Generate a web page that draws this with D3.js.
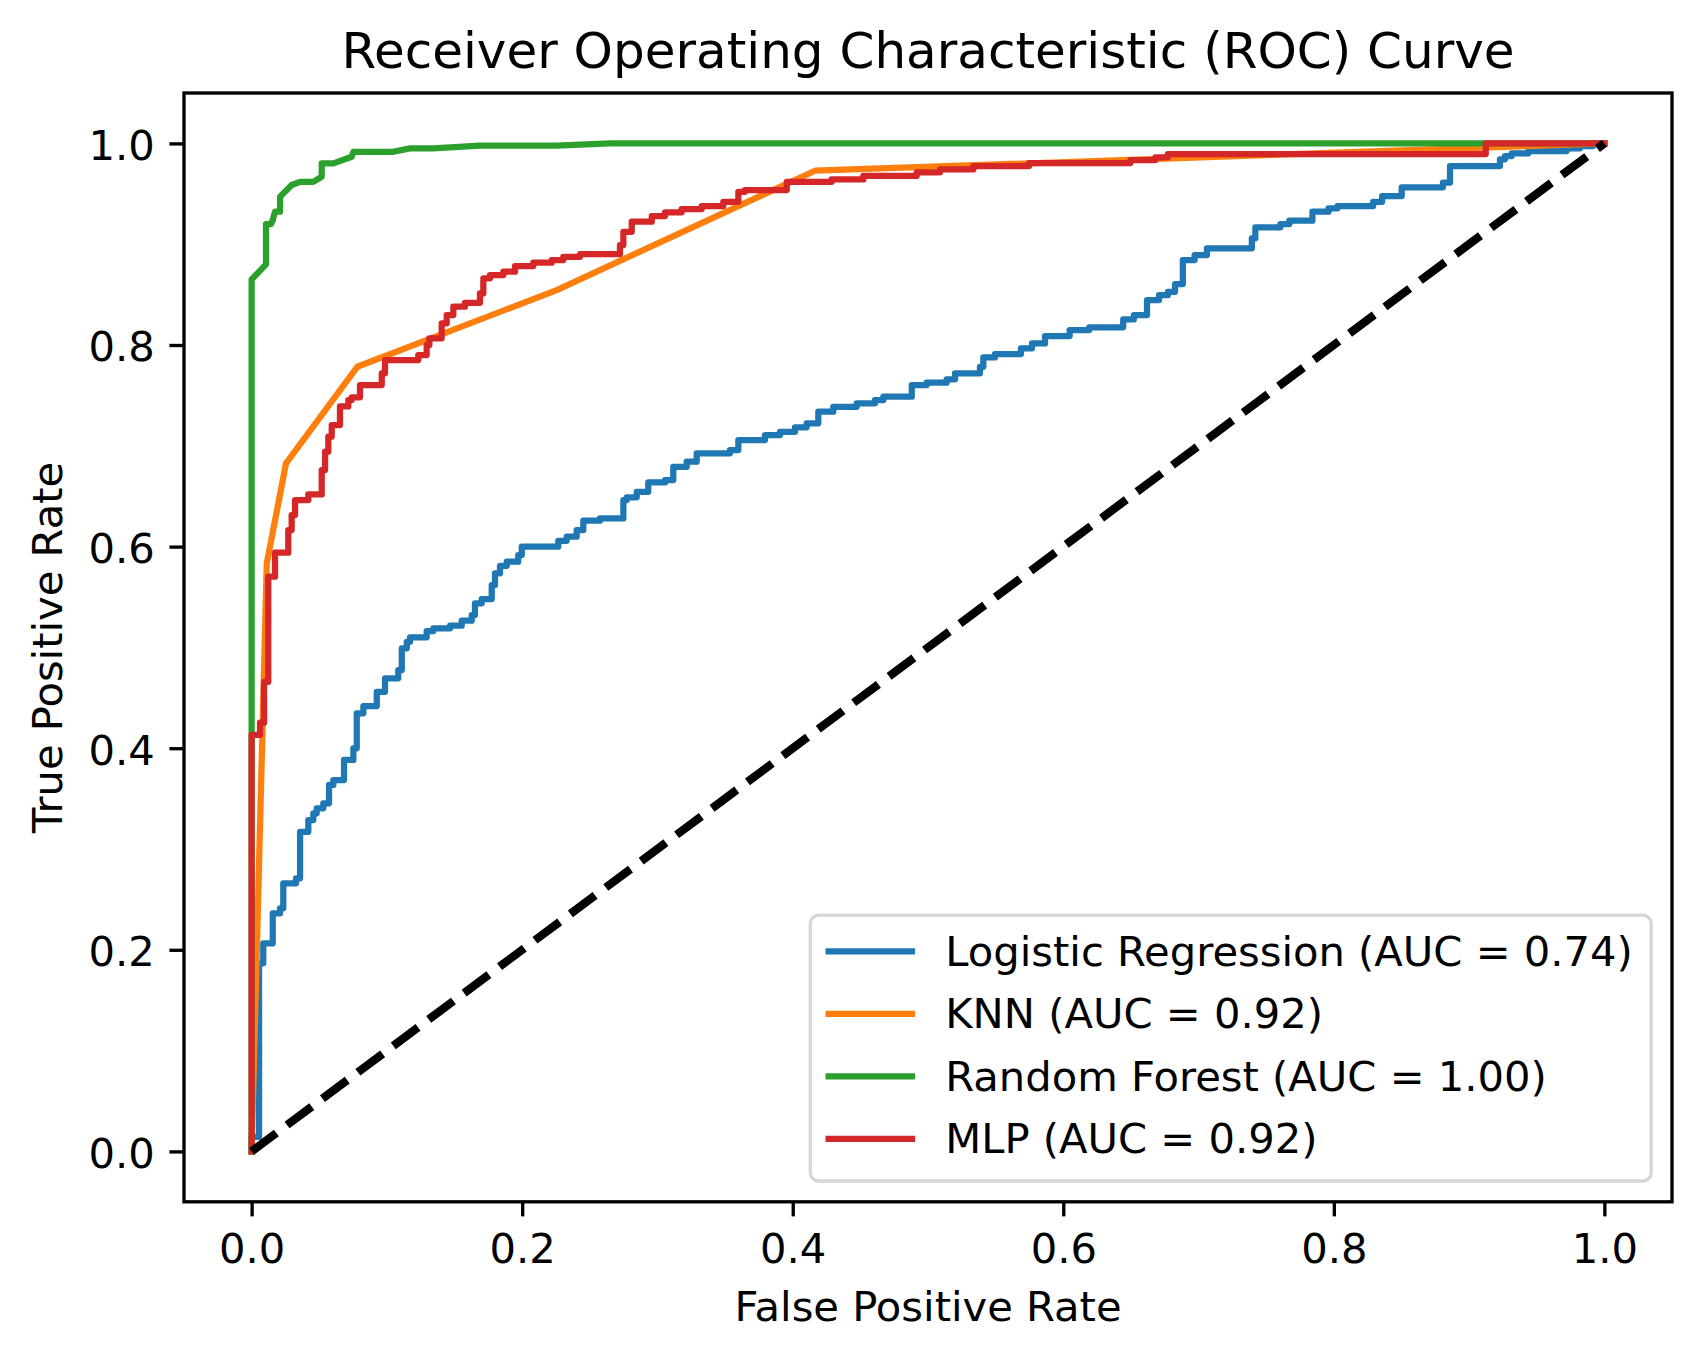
<!DOCTYPE html>
<html>
<head>
<meta charset="utf-8">
<script src="https://cdn.jsdelivr.net/npm/d3@7"></script>
<style>
  body { margin: 0; background: #fff; }
  svg { display: block; font-family: "DejaVu Sans", sans-serif; }
</style>
</head>
<body>
<svg id="chart" width="1702" height="1361"></svg>
<script>
// values
const tickValues = [0, 0.2, 0.4, 0.6, 0.8, 1.0];

const modelNames = ["Logistic Regression", "KNN", "Random Forest", "MLP"];
const aucValues = [0.74, 0.92, 1.00, 0.92];

// logistic regression: step points (x = where the curve rises, y = level reached)
const lrFpr = [0, 0, 0.0055, 0.0086, 0.0156, 0.0210, 0.0234, 0.0328, 0.0358, 0.0419, 0.0456, 0.0481, 0.0530, 0.0572, 0.0604, 0.0683,
  0.0752, 0.0777, 0.0826, 0.0925, 0.0986, 0.1084, 0.1110, 0.1147, 0.1171, 0.1294, 0.1343, 0.1467, 0.1553, 0.1627, 0.1651, 0.1701,
  0.1775, 0.1799, 0.1836, 0.1886, 0.1971, 0.1997, 0.2267, 0.2329, 0.2403, 0.2452, 0.2575, 0.2748, 0.2773, 0.2847, 0.2932, 0.3056,
  0.3117, 0.3216, 0.3290, 0.3536, 0.3598, 0.3795, 0.3906, 0.4017, 0.4103, 0.4189, 0.4300, 0.4473, 0.4608, 0.4670, 0.4880, 0.4990,
  0.5138, 0.5200, 0.5384, 0.5409, 0.5495, 0.5687, 0.5769, 0.5865, 0.6047, 0.6192, 0.6443, 0.6522, 0.6619, 0.6708, 0.6774, 0.6826,
  0.6884, 0.6971, 0.7062, 0.7394, 0.7420, 0.7605, 0.7671, 0.7842, 0.7961, 0.8027, 0.8291, 0.8357, 0.8502, 0.8807, 0.8859, 0.9228,
  0.9265, 0.9315, 0.9437, 0.9721, 0.9820, 0.9916, 1.0];
const lrTpr = [0, 0.0143, 0.1866, 0.2064, 0.2362, 0.2412, 0.2660, 0.2709, 0.3171, 0.3287, 0.3354, 0.3404, 0.3453, 0.3635, 0.3684, 0.3883,
  0.3999, 0.4346, 0.4418, 0.4560, 0.4693, 0.4775, 0.4991, 0.5056, 0.5100, 0.5162, 0.5189, 0.5215, 0.5265, 0.5321, 0.5437, 0.5480,
  0.5619, 0.5735, 0.5810, 0.5850, 0.5916, 0.5999, 0.6058, 0.6098, 0.6164, 0.6257, 0.6280, 0.6462, 0.6489, 0.6544, 0.6637, 0.6660,
  0.6792, 0.6842, 0.6925, 0.6958, 0.7057, 0.7107, 0.7139, 0.7183, 0.7223, 0.7338, 0.7387, 0.7421, 0.7454, 0.7487, 0.7603, 0.7626,
  0.7659, 0.7719, 0.7784, 0.7877, 0.7910, 0.7967, 0.8016, 0.8089, 0.8148, 0.8175, 0.8254, 0.8297, 0.8446, 0.8495, 0.8528, 0.8605,
  0.8843, 0.8892, 0.8959, 0.9058, 0.9167, 0.9200, 0.9233, 0.9322, 0.9356, 0.9378, 0.9421, 0.9478, 0.9564, 0.9612, 0.9775, 0.9842,
  0.9875, 0.9901, 0.9924, 0.9951, 0.9974, 1.0, 1.0];

// knn: few thresholds, straight segments
const knnFpr = [0, 0.0112, 0.0254, 0.0781, 0.2255, 0.4165, 1.0];
const knnTpr = [0, 0.5834, 0.6826, 0.7784, 0.8545, 0.9729, 1.0];

// random forest: corner points
const rfFpr = [0, 0, 0.0106, 0.0106, 0.0143, 0.0156, 0.0173, 0.0210, 0.0210, 0.0296, 0.0358, 0.0456, 0.0518, 0.0518, 0.0604, 0.0740,
  0.0752, 0.1047, 0.1171, 0.1341, 0.1688, 0.2255, 0.2649, 1.0];
const rfTpr = [0, 0.8651, 0.8800, 0.9200, 0.9200, 0.9239, 0.9322, 0.9322, 0.9471, 0.9587, 0.9619, 0.9619, 0.9669, 0.9802, 0.9802, 0.9867,
  0.9917, 0.9917, 0.9951, 0.9951, 0.9977, 0.9977, 1.0, 1.0];

// mlp: step points
const mlpFpr = [0, 0, 0.0062, 0.0092, 0.0123, 0.0173, 0.0271, 0.0296, 0.0321, 0.0419, 0.0518, 0.0543, 0.0567, 0.0592, 0.0653, 0.0715,
  0.0740, 0.0801, 0.0962, 0.0986, 0.1232, 0.1294, 0.1314, 0.1405, 0.1442, 0.1491, 0.1577, 0.1688, 0.1713, 0.1762, 0.1861, 0.1947,
  0.2082, 0.2218, 0.2304, 0.2428, 0.2723, 0.2748, 0.2810, 0.2958, 0.3056, 0.3179, 0.3327, 0.3487, 0.3598, 0.3647, 0.3956, 0.4288,
  0.4522, 0.4917, 0.5089, 0.5335, 0.5747, 0.6496, 0.6681, 0.6773, 0.9123, 1.0];
const mlpTpr = [0, 0.4131, 0.4253, 0.4659, 0.5701, 0.5939, 0.6164, 0.6313, 0.6462, 0.6518, 0.6759, 0.6941, 0.7090, 0.7206, 0.7391, 0.7454,
  0.7481, 0.7603, 0.7719, 0.7851, 0.7900, 0.8000, 0.8066, 0.8215, 0.8297, 0.8380, 0.8419, 0.8512, 0.8661, 0.8694, 0.8727, 0.8783,
  0.8816, 0.8843, 0.8875, 0.8902, 0.8992, 0.9123, 0.9223, 0.9279, 0.9316, 0.9349, 0.9378, 0.9421, 0.9520, 0.9537, 0.9619, 0.9643,
  0.9679, 0.9713, 0.9742, 0.9775, 0.9805, 0.9835, 0.9861, 0.9894, 1.0, 1.0];

const chanceLine = [0, 1];

const colors = ["#1f77b4", "#ff7f0e", "#2ca02c", "#d62728"];

// layout (matplotlib at 300 dpi, tight bbox)
const px = 300 / 72;
const axLeft = 184, axTop = 93, axWidth = 1488, axHeight = 1108.8;
const fontSmall = 10 * px, fontLarge = 12 * px;
const lineW = 1.5 * px, spineW = 0.8 * px, tickLen = 3.5 * px;

const svg = d3.select("#chart");

const xScale = d3.scaleLinear().domain([-0.05, 1.05]).range([axLeft, axLeft + axWidth]);
const yScale = d3.scaleLinear().domain([-0.05, 1.05]).range([axTop + axHeight, axTop]);

const zip = (xs, ys) => xs.map((v, i) => [v, ys[i]]);

const series = [
  { data: zip(lrFpr, lrTpr), curve: d3.curveStepAfter },
  { data: zip(knnFpr, knnTpr), curve: d3.curveLinear },
  { data: zip(rfFpr, rfTpr), curve: d3.curveLinear },
  { data: zip(mlpFpr, mlpTpr), curve: d3.curveStepAfter },
];

const plot = svg.append("g").attr("class", "plot");

series.forEach((s, i) => {
  const line = d3.line().x((d) => xScale(d[0])).y((d) => yScale(d[1])).curve(s.curve);
  plot.append("path")
    .datum(s.data)
    .attr("fill", "none")
    .attr("stroke", colors[i])
    .attr("stroke-width", lineW)
    .attr("stroke-linecap", "square")
    .attr("stroke-linejoin", "round")
    .attr("d", line);
});

const diag = d3.line().x((d) => xScale(d)).y((d) => yScale(d));
plot.append("path")
  .datum(chanceLine)
  .attr("fill", "none")
  .attr("stroke", "#000")
  .attr("stroke-width", 2 * px)
  .attr("stroke-dasharray", `${3.7 * 2 * px},${1.6 * 2 * px}`)
  .attr("d", diag);

// axes
const xAxis = d3.axisBottom(xScale).tickValues(tickValues).tickFormat(d3.format(".1f")).tickSize(tickLen).tickPadding(tickLen).tickSizeOuter(0);
const yAxis = d3.axisLeft(yScale).tickValues(tickValues).tickFormat(d3.format(".1f")).tickSize(tickLen).tickPadding(tickLen).tickSizeOuter(0);

const gx = svg.append("g").attr("transform", `translate(0,${axTop + axHeight})`).call(xAxis);
const gy = svg.append("g").attr("transform", `translate(${axLeft},0)`).call(yAxis);

[gx, gy].forEach((g) => {
  g.select(".domain").remove();
  g.selectAll(".tick line").attr("stroke", "#000").attr("stroke-width", spineW);
  g.selectAll(".tick text").attr("fill", "#000").style("font-size", `${fontSmall}px`).attr("font-family", "DejaVu Sans");
});
gx.selectAll(".tick text").attr("dy", "0.76em");
gy.selectAll(".tick text").attr("dy", "0.38em");

svg.append("rect")
  .attr("x", axLeft).attr("y", axTop)
  .attr("width", axWidth).attr("height", axHeight)
  .attr("fill", "none").attr("stroke", "#000").attr("stroke-width", spineW);

// titles
svg.append("text")
  .attr("x", axLeft + axWidth / 2).attr("y", axTop - 6 * px)
  .attr("text-anchor", "middle").style("font-size", `${fontLarge}px`)
  .text("Receiver Operating Characteristic (ROC) Curve");

svg.append("text")
  .attr("x", axLeft + axWidth / 2).attr("y", 1321)
  .attr("text-anchor", "middle").style("font-size", `${fontSmall}px`)
  .text("False Positive Rate");

svg.append("text")
  .attr("transform", `translate(62,${axTop + axHeight / 2}) rotate(-90)`)
  .attr("text-anchor", "middle").style("font-size", `${fontSmall}px`)
  .text("True Positive Rate");

// legend, lower right
const pad = 0.4 * fontSmall, handleLen = 2 * fontSmall, textPad = 0.8 * fontSmall, rowStep = 1.5 * fontSmall;
const legRight = axLeft + axWidth - 0.5 * fontSmall;
const legBottom = axTop + axHeight - 0.5 * fontSmall;
const legHeight = pad * 2 + fontSmall * modelNames.length + 0.5 * fontSmall * (modelNames.length - 1) + spineW;

const legend = svg.append("g").attr("class", "legend");
const frame = legend.append("rect")
  .attr("rx", 0.2 * fontSmall).attr("ry", 0.2 * fontSmall)
  .attr("fill", "#fff").attr("fill-opacity", 0.8)
  .attr("stroke", "#ccc").attr("stroke-opacity", 0.8).attr("stroke-width", spineW);

const labels = modelNames.map((n, i) => `${n} (AUC = ${aucValues[i].toFixed(2)})`);
const items = legend.selectAll("g.item").data(labels).join("g").attr("class", "item");
const texts = items.append("text").style("font-size", `${fontSmall}px`).text((d) => d);
const maxLen = d3.max(texts.nodes(), (n) => n.getComputedTextLength());

const legWidth = pad * 2 + handleLen + textPad + maxLen + spineW;
const legLeft = legRight - legWidth;
const legTop = legBottom - legHeight;
frame.attr("x", legLeft).attr("y", legTop).attr("width", legWidth).attr("height", legHeight);

const rowTop = legTop + spineW / 2 + pad;
items.each(function (d, i) {
  const g = d3.select(this);
  const top = rowTop + i * rowStep;
  g.append("line")
    .attr("x1", legLeft + spineW / 2 + pad).attr("x2", legLeft + spineW / 2 + pad + handleLen)
    .attr("y1", top + 0.43 * fontSmall).attr("y2", top + 0.43 * fontSmall)
    .attr("stroke", colors[i]).attr("stroke-width", lineW).attr("stroke-linecap", "square");
  g.select("text")
    .attr("x", legLeft + spineW / 2 + pad + handleLen + textPad)
    .attr("y", top + 0.78 * fontSmall);
});
</script>
</body>
</html>
